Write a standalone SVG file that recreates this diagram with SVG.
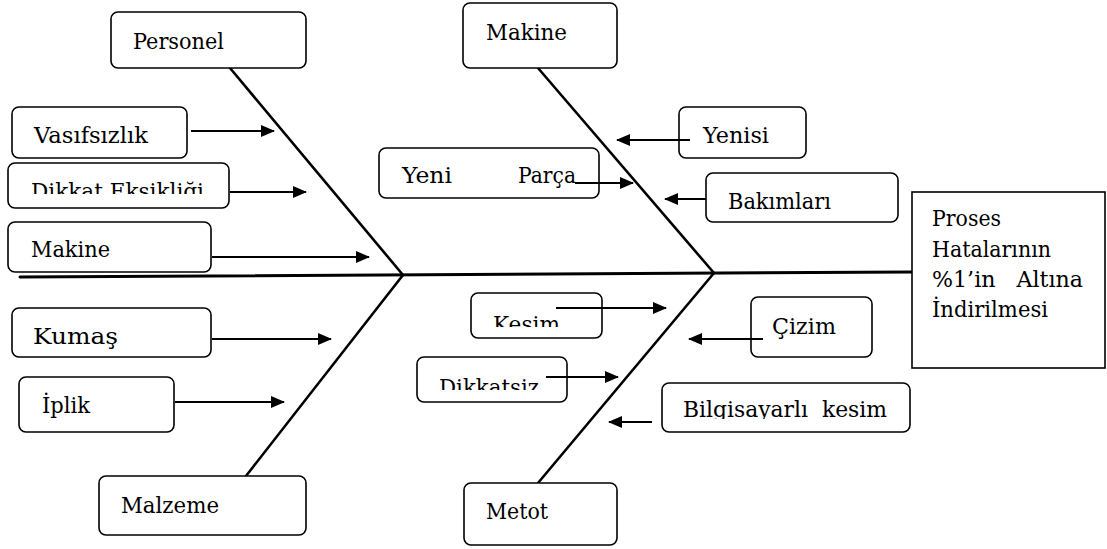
<svg xmlns="http://www.w3.org/2000/svg" width="1107" height="549" viewBox="0 0 1107 549">
  <style>
    .box { fill: #fff; stroke: #000; stroke-width: 1.6; }
    .bone { stroke: #000; stroke-width: 2.6; fill: none; stroke-linecap: round; }
    .arr { stroke: #000; stroke-width: 2; fill: none; marker-end: url(#head); }
    .tail { stroke: #000; stroke-width: 2; }
  </style>
  <defs>
    <marker id="head" markerWidth="14" markerHeight="12" refX="13" refY="6" orient="auto" markerUnits="userSpaceOnUse">
      <path d="M0,0 L14,6 L0,12 Z" fill="#000"/>
    </marker>
    <clipPath id="clipDikkat"><rect x="0" y="160" width="240" height="34"/></clipPath>
    <clipPath id="clipKesim"><rect x="470" y="290" width="140" height="37"/></clipPath>
    <clipPath id="clipDikkatsiz"><rect x="415" y="355" width="160" height="35"/></clipPath>
    <clipPath id="clipBilgi"><rect x="660" y="380" width="260" height="39"/></clipPath>
  </defs>

  <!-- spine and bones -->
  <g id="connectors">
    <line class="bone" x1="20" y1="277" x2="912" y2="272" style="stroke-width:3"/>
    <line class="bone" x1="230" y1="68" x2="403" y2="275"/>
    <line class="bone" x1="246" y1="476" x2="403" y2="275"/>
    <line class="bone" x1="538" y1="68" x2="714" y2="273"/>
    <line class="bone" x1="538" y1="483" x2="714" y2="273"/>

    <!-- cause arrows -->
    <line class="arr" x1="191" y1="131" x2="274" y2="131"/>
    <line class="arr" x1="230" y1="192" x2="306" y2="192"/>
    <line class="arr" x1="212" y1="257" x2="369" y2="257"/>
    <line class="arr" x1="212" y1="339" x2="331" y2="339"/>
    <line class="arr" x1="175" y1="402" x2="284" y2="402"/>
    <line class="arr" x1="690" y1="140" x2="617" y2="140"/>
    <line class="arr" x1="575" y1="183" x2="633" y2="183"/>
    <line class="arr" x1="706" y1="199" x2="665" y2="199"/>
    <line class="arr" x1="556" y1="308" x2="666" y2="308"/>
    <line class="arr" x1="546" y1="377" x2="618" y2="377"/>
    <line class="arr" x1="763" y1="339" x2="689" y2="339"/>
    <line class="arr" x1="652" y1="422" x2="609" y2="422"/>
  </g>

  <g font-family="DejaVu Serif, serif" font-size="22" fill="#000" lengthAdjust="spacingAndGlyphs">
  <!-- category heads -->
  <g id="personel">
    <rect class="box" x="111" y="12" width="195" height="56" rx="7"/>
    <text x="133" y="49" textLength="91" lengthAdjust="spacingAndGlyphs">Personel</text>
  </g>
  <g id="makine-top">
    <rect class="box" x="463" y="3" width="154" height="65" rx="7"/>
    <text x="486" y="40" textLength="81" lengthAdjust="spacingAndGlyphs">Makine</text>
  </g>
  <g id="malzeme">
    <rect class="box" x="99" y="476" width="207" height="59" rx="7"/>
    <text x="121" y="513" textLength="98" lengthAdjust="spacingAndGlyphs">Malzeme</text>
  </g>
  <g id="metot">
    <rect class="box" x="464" y="483" width="153" height="62" rx="7"/>
    <text x="486" y="519" textLength="62" lengthAdjust="spacingAndGlyphs">Metot</text>
  </g>

  <!-- effect -->
  <g id="sonuc">
    <rect x="912" y="192" width="193" height="176" fill="#fff" stroke="#000" stroke-width="1.6"/>
    <text x="932" y="226" textLength="69" lengthAdjust="spacingAndGlyphs">Proses</text>
    <text x="932" y="257" textLength="119" lengthAdjust="spacingAndGlyphs">Hatalarının</text>
    <text x="932" y="287" textLength="151" lengthAdjust="spacingAndGlyphs" xml:space="preserve">%1’in   Altına</text>
    <text x="932" y="317" textLength="116" lengthAdjust="spacingAndGlyphs">İndirilmesi</text>
  </g>

  <!-- causes: personel -->
  <g id="vasifsizlik">
    <rect class="box" x="12" y="107" width="175" height="51" rx="7"/>
    <text x="34" y="143" textLength="114" lengthAdjust="spacingAndGlyphs">Vasıfsızlık</text>
  </g>
  <g id="dikkat-eksikligi">
    <rect class="box" x="8" y="163" width="221" height="45" rx="7"/>
    <text x="31" y="199" textLength="173" lengthAdjust="spacingAndGlyphs" clip-path="url(#clipDikkat)">Dikkat Eksikliği</text>
  </g>
  <g id="makine-left">
    <rect class="box" x="8" y="222" width="203" height="50" rx="7"/>
    <text x="31" y="257" textLength="79" lengthAdjust="spacingAndGlyphs">Makine</text>
  </g>

  <!-- causes: malzeme -->
  <g id="kumas">
    <rect class="box" x="12" y="308" width="199" height="49" rx="7"/>
    <text x="33" y="344" textLength="85" lengthAdjust="spacingAndGlyphs">Kumaş</text>
  </g>
  <g id="iplik">
    <rect class="box" x="19" y="377" width="155" height="55" rx="7"/>
    <text x="42" y="413" textLength="48" lengthAdjust="spacingAndGlyphs">İplik</text>
  </g>

  <!-- causes: makine -->
  <g id="yenisi">
    <rect class="box" x="679" y="107" width="127" height="51" rx="7"/>
    <text x="703" y="143" textLength="66" lengthAdjust="spacingAndGlyphs">Yenisi</text>
  </g>
  <g id="yeni-parca">
    <rect class="box" x="379" y="148" width="220" height="50" rx="7"/>
    <text x="402" y="183" textLength="50" lengthAdjust="spacingAndGlyphs">Yeni</text>
    <text x="518" y="183" textLength="58" lengthAdjust="spacingAndGlyphs">Parça</text>
  </g>
  <g id="bakimlari">
    <rect class="box" x="706" y="173" width="192" height="49" rx="7"/>
    <text x="728" y="209" textLength="103" lengthAdjust="spacingAndGlyphs">Bakımları</text>
  </g>

  <!-- causes: metot -->
  <g id="kesim">
    <rect class="box" x="471" y="293" width="131" height="45" rx="7"/>
    <text x="493" y="332" textLength="67" lengthAdjust="spacingAndGlyphs" clip-path="url(#clipKesim)">Kesim</text>
  </g>
  <g id="dikkatsiz">
    <rect class="box" x="417" y="357" width="150" height="45" rx="7"/>
    <text x="439" y="395" textLength="100" lengthAdjust="spacingAndGlyphs" clip-path="url(#clipDikkatsiz)">Dikkatsiz</text>
  </g>
  <g id="cizim">
    <rect class="box" x="751" y="297" width="121" height="60" rx="7"/>
    <text x="772" y="334" textLength="64" lengthAdjust="spacingAndGlyphs">Çizim</text>
  </g>
  <g id="bilgisayarli-kesim">
    <rect class="box" x="662" y="383" width="248" height="49" rx="7"/>
    <text x="683" y="417" textLength="204" lengthAdjust="spacingAndGlyphs" clip-path="url(#clipBilgi)" xml:space="preserve">Bilgisayarlı  kesim</text>
  </g>
  </g>

  <!-- arrow tails that run over their boxes -->
  <g id="overlays">
    <line class="tail" x1="690" y1="140" x2="679" y2="140"/>
    <line class="tail" x1="575" y1="183" x2="599" y2="183"/>
    <line class="tail" x1="556" y1="308" x2="602" y2="308"/>
    <line class="tail" x1="546" y1="377" x2="567" y2="377"/>
    <line class="tail" x1="763" y1="339" x2="751" y2="339"/>
  </g>
</svg>
